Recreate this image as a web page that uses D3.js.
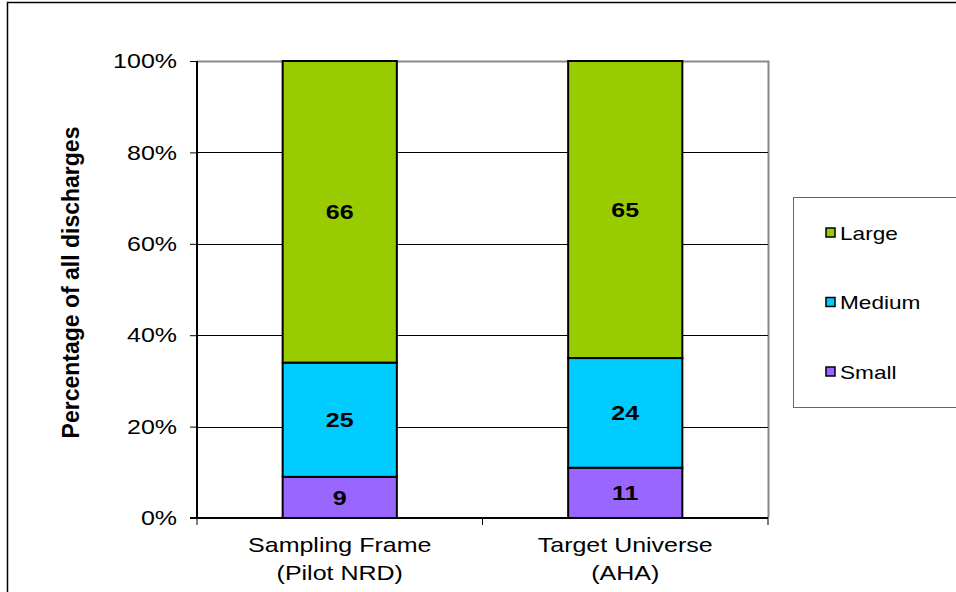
<!DOCTYPE html>
<html>
<head>
<meta charset="utf-8">
<script src="https://cdn.jsdelivr.net/npm/d3@7"></script>
<style>
  body { margin: 0; background: #fff; }
  svg { display: block; font-family: Arial, "Liberation Sans", sans-serif; }
</style>
</head>
<body>
<svg id="chart"></svg>
<script>
// data
const categories = ["Sampling Frame|(Pilot NRD)", "Target Universe|(AHA)"];
const seriesNames = ["Small", "Medium", "Large"];
const small = [9, 11];
const medium = [25, 24];
const large = [66, 65];
const yTicks = [0, 20, 40, 60, 80, 100];

const colors = { Small: "#9966ff", Medium: "#00ccff", Large: "#99cc00" };

const width = 956, height = 592;
const plot = { left: 197, right: 768, top: 61, bottom: 518 };
const sx = 1.19; // text in the original is a bit wide

const svg = d3.select("#chart").attr("width", width).attr("height", height);

// widen a text horizontally, keeping its anchor point
function stretch(sel) {
  sel.each(function() {
    const t = d3.select(this);
    const xv = +t.attr("x") || 0;
    t.attr("x", xv / sx).attr("transform", `scale(${sx},1)`);
    t.selectAll("tspan").each(function() {
      const s = d3.select(this);
      s.attr("x", (+s.attr("x") || 0) / sx);
    });
  });
}

// outer frame (top and left edges visible)
svg.append("path")
  .attr("d", `M7.5,${height} L7.5,2.5 L${width},2.5`)
  .attr("fill", "none").attr("stroke", "#000").attr("stroke-width", 1.5);

const x = d3.scaleBand().domain(categories).range([plot.left, plot.right]).paddingInner(0).paddingOuter(0);
const y = d3.scaleLinear().domain([0, 100]).range([plot.bottom, plot.top]);

// plot border (gray on top/right)
svg.append("path")
  .attr("d", `M${plot.left},${plot.top + 0.5} H${plot.right + 0.5} V${plot.bottom}`)
  .attr("fill", "none").attr("stroke", "#888").attr("stroke-width", 2);

// gridlines
svg.append("g").selectAll("line")
  .data(yTicks.filter(d => d > 0 && d < 100))
  .join("line")
  .attr("x1", plot.left).attr("x2", plot.right)
  .attr("y1", d => Math.round(y(d)) + 0.5).attr("y2", d => Math.round(y(d)) + 0.5)
  .attr("stroke", "#000").attr("stroke-width", 1);

// stacked data
const rows = categories.map((c, i) => ({ cat: c, Small: small[i], Medium: medium[i], Large: large[i] }));
const stack = d3.stack().keys(seriesNames)(rows);

const barW = x.bandwidth() * 0.4;

const layers = svg.append("g").selectAll("g")
  .data(stack)
  .join("g")
  .attr("fill", d => colors[d.key]);

layers.selectAll("rect")
  .data(d => d)
  .join("rect")
  .attr("x", d => x(d.data.cat) + (x.bandwidth() - barW) / 2)
  .attr("width", barW)
  .attr("y", d => y(d[1]))
  .attr("height", d => y(d[0]) - y(d[1]))
  .attr("stroke", "#000").attr("stroke-width", 2);

layers.selectAll("text")
  .data(d => d.map(v => ({ v, key: d.key })))
  .join("text")
  .attr("x", d => x(d.v.data.cat) + x.bandwidth() / 2)
  .attr("y", d => (y(d.v[0]) + y(d.v[1])) / 2)
  .attr("dy", "0.36em")
  .attr("text-anchor", "middle")
  .attr("fill", "#000")
  .style("font-weight", "bold").style("font-size", "21px")
  .text(d => d.v.data[d.key])
  .call(stretch);

// y axis
const yAxis = svg.append("g")
  .attr("transform", `translate(${plot.left},0)`)
  .call(d3.axisLeft(y).tickValues(yTicks).tickSize(7).tickPadding(13).tickFormat(d => d + "%"));
yAxis.select(".domain").attr("stroke", "#000").attr("stroke-width", 2).attr("d", `M0,${plot.top}V${plot.bottom}`);
yAxis.selectAll(".tick line").attr("stroke", "#000");
yAxis.selectAll(".tick text").style("font-size", "21px").attr("fill", "#000").call(stretch);

// x axis
const xAxis = svg.append("g")
  .attr("transform", `translate(0,${plot.bottom})`)
  .call(d3.axisBottom(x).tickSize(0).tickFormat(""));
xAxis.select(".domain").attr("stroke", "#000").attr("stroke-width", 2).attr("d", `M${plot.left - 7},0H${plot.right}`);
xAxis.selectAll(".tick").remove();

xAxis.selectAll(".sep")
  .data([plot.left, plot.left + x.bandwidth(), plot.right])
  .join("line")
  .attr("x1", d => d).attr("x2", d => d)
  .attr("y1", 0).attr("y2", 7)
  .attr("stroke", "#000");

const xl = xAxis.selectAll(".xl")
  .data(categories)
  .join("text")
  .attr("text-anchor", "middle")
  .attr("fill", "#000")
  .style("font-size", "21px");
xl.each(function(d) {
  const t = d3.select(this);
  d.split("|").forEach((line, i) => {
    t.append("tspan")
      .attr("x", x(d) + x.bandwidth() / 2)
      .attr("y", 34 + i * 28)
      .text(line);
  });
});
xl.call(stretch);

// y axis title
svg.append("text")
  .attr("transform", `translate(79,${(plot.top + plot.bottom) / 2 - 7}) rotate(-90)`)
  .attr("text-anchor", "middle")
  .style("font-weight", "bold").style("font-size", "23px")
  .text("Percentage of all discharges");

// legend
const legend = svg.append("g");
legend.append("rect")
  .attr("x", 793.5).attr("y", 197.5).attr("width", 165).attr("height", 210)
  .attr("fill", "#fff").attr("stroke", "#666").attr("stroke-width", 1);

const legendItems = ["Large", "Medium", "Small"];
const ly = d3.scalePoint().domain(legendItems).range([233, 372]);
const li = legend.selectAll(".li")
  .data(legendItems)
  .join("g")
  .attr("transform", d => `translate(826,${ly(d)})`);
li.append("rect")
  .attr("x", 0).attr("y", -5).attr("width", 9).attr("height", 9)
  .attr("fill", d => colors[d]).attr("stroke", "#000").attr("stroke-width", 1.5);
li.append("text")
  .attr("x", 14).attr("dy", "0.36em")
  .style("font-size", "19px")
  .text(d => d)
  .call(stretch);
</script>
</body>
</html>
